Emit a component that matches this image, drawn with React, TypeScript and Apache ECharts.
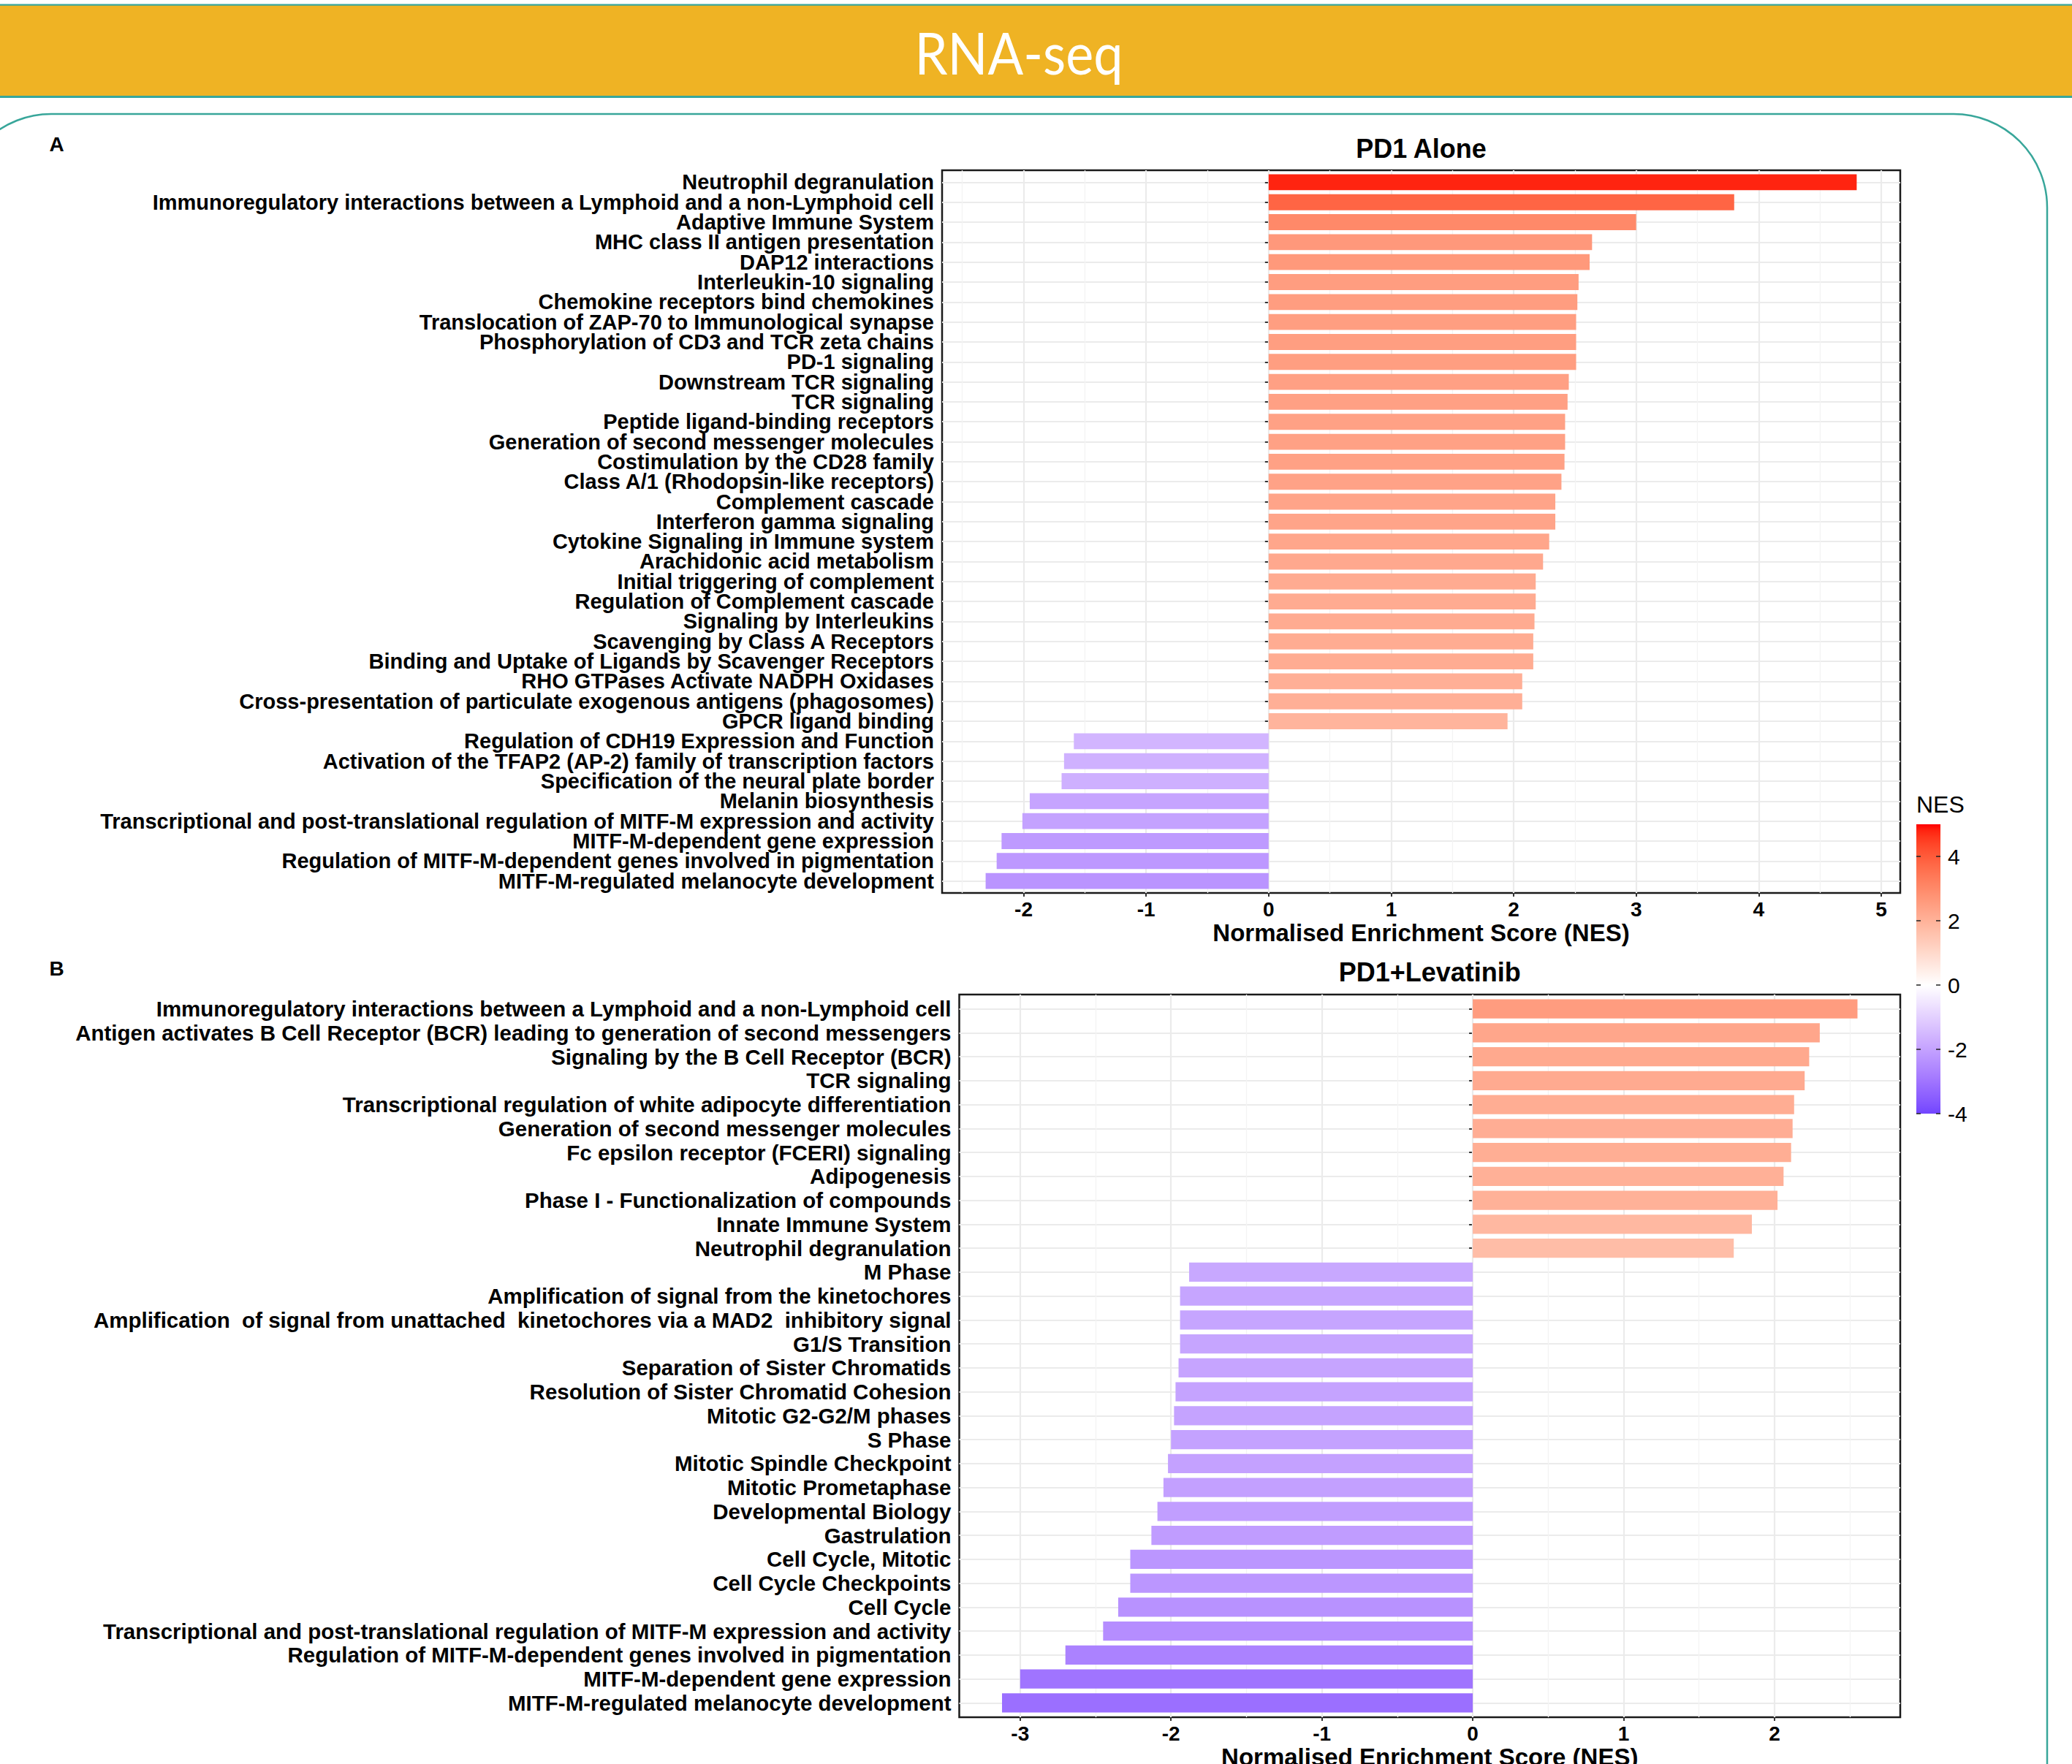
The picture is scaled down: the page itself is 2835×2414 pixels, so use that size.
import React, { useEffect, useRef } from "react";
import * as echarts from "echarts";

const W = 2835;
const H = 2414;

// ---- data -------------------------------------------------------------
const pathwaysA = [
  "Neutrophil degranulation",
  "Immunoregulatory interactions between a Lymphoid and a non-Lymphoid cell",
  "Adaptive Immune System",
  "MHC class II antigen presentation",
  "DAP12 interactions",
  "Interleukin-10 signaling",
  "Chemokine receptors bind chemokines",
  "Translocation of ZAP-70 to Immunological synapse",
  "Phosphorylation of CD3 and TCR zeta chains",
  "PD-1 signaling",
  "Downstream TCR signaling",
  "TCR signaling",
  "Peptide ligand-binding receptors",
  "Generation of second messenger molecules",
  "Costimulation by the CD28 family",
  "Class A/1 (Rhodopsin-like receptors)",
  "Complement cascade",
  "Interferon gamma signaling",
  "Cytokine Signaling in Immune system",
  "Arachidonic acid metabolism",
  "Initial triggering of complement",
  "Regulation of Complement cascade",
  "Signaling by Interleukins",
  "Scavenging by Class A Receptors",
  "Binding and Uptake of Ligands by Scavenger Receptors",
  "RHO GTPases Activate NADPH Oxidases",
  "Cross-presentation of particulate exogenous antigens (phagosomes)",
  "GPCR ligand binding",
  "Regulation of CDH19 Expression and Function",
  "Activation of the TFAP2 (AP-2) family of transcription factors",
  "Specification of the neural plate border",
  "Melanin biosynthesis",
  "Transcriptional and post-translational regulation of MITF-M expression and activity",
  "MITF-M-dependent gene expression",
  "Regulation of MITF-M-dependent genes involved in pigmentation",
  "MITF-M-regulated melanocyte development",
];

const nesA = [
  4.8, 3.8, 3.0, 2.64, 2.62, 2.53, 2.52, 2.51, 2.51, 2.51, 2.45, 2.44, 2.42,
  2.42, 2.415, 2.39, 2.34, 2.34, 2.29, 2.24, 2.18, 2.18, 2.17, 2.16, 2.16,
  2.07, 2.07, 1.95, -1.59, -1.67, -1.69, -1.95, -2.01, -2.18, -2.22, -2.31,
];

const pathwaysB = [
  "Immunoregulatory interactions between a Lymphoid and a non-Lymphoid cell",
  "Antigen activates B Cell Receptor (BCR) leading to generation of second messengers",
  "Signaling by the B Cell Receptor (BCR)",
  "TCR signaling",
  "Transcriptional regulation of white adipocyte differentiation",
  "Generation of second messenger molecules",
  "Fc epsilon receptor (FCERI) signaling",
  "Adipogenesis",
  "Phase I - Functionalization of compounds",
  "Innate Immune System",
  "Neutrophil degranulation",
  "M Phase",
  "Amplification of signal from the kinetochores",
  "Amplification  of signal from unattached  kinetochores via a MAD2  inhibitory signal",
  "G1/S Transition",
  "Separation of Sister Chromatids",
  "Resolution of Sister Chromatid Cohesion",
  "Mitotic G2-G2/M phases",
  "S Phase",
  "Mitotic Spindle Checkpoint",
  "Mitotic Prometaphase",
  "Developmental Biology",
  "Gastrulation",
  "Cell Cycle, Mitotic",
  "Cell Cycle Checkpoints",
  "Cell Cycle",
  "Transcriptional and post-translational regulation of MITF-M expression and activity",
  "Regulation of MITF-M-dependent genes involved in pigmentation",
  "MITF-M-dependent gene expression",
  "MITF-M-regulated melanocyte development",
];

const nesB = [
  2.55, 2.3, 2.23, 2.2, 2.13, 2.12, 2.11, 2.06, 2.02, 1.85, 1.73, -1.88,
  -1.94, -1.94, -1.94, -1.95, -1.97, -1.98, -2.0, -2.02, -2.05, -2.09, -2.13,
  -2.27, -2.27, -2.35, -2.45, -2.7, -3.0, -3.12,
];

const legendLimits = [-4, 5];
const legendTicks = [4, 2, 0, -2, -4];

const pageTitle = "RNA-seq";
const titleA = "PD1 Alone";
const titleB = "PD1+Levatinib";
const xTitle = "Normalised Enrichment Score (NES)";
const legendTitle = "NES";

// ---- colour scale: white -> red / white -> blue, interpolated in CIELAB ----
const toLin = (c: number) => {
  const v = c / 255;
  return v <= 0.04045 ? v / 12.92 : Math.pow((v + 0.055) / 1.055, 2.4);
};
const fromLin = (c: number) => {
  const v = c <= 0.0031308 ? 12.92 * c : 1.055 * Math.pow(c, 1 / 2.4) - 0.055;
  return Math.round(Math.max(0, Math.min(1, v)) * 255);
};
const WX = 0.95047, WY = 1.0, WZ = 1.08883;
const fLab = (t: number) => (t > 0.008856 ? Math.cbrt(t) : 7.787 * t + 16 / 116);
const fInv = (t: number) => (t * t * t > 0.008856 ? t * t * t : (t - 16 / 116) / 7.787);

function hexToLab(hex: string): number[] {
  const r = toLin(parseInt(hex.slice(1, 3), 16));
  const g = toLin(parseInt(hex.slice(3, 5), 16));
  const b = toLin(parseInt(hex.slice(5, 7), 16));
  const X = (0.4124 * r + 0.3576 * g + 0.1805 * b) / WX;
  const Y = (0.2126 * r + 0.7152 * g + 0.0722 * b) / WY;
  const Z = (0.0193 * r + 0.1192 * g + 0.9505 * b) / WZ;
  const fx = fLab(X), fy = fLab(Y), fz = fLab(Z);
  return [116 * fy - 16, 500 * (fx - fy), 200 * (fy - fz)];
}

function labToHex(L: number, a: number, b: number): string {
  const fy = (L + 16) / 116;
  const fx = fy + a / 500;
  const fz = fy - b / 200;
  const X = fInv(fx) * WX, Y = fInv(fy) * WY, Z = fInv(fz) * WZ;
  const r = 3.2406 * X - 1.5372 * Y - 0.4986 * Z;
  const g = -0.9689 * X + 1.8758 * Y + 0.0415 * Z;
  const bl = 0.0557 * X - 0.204 * Y + 1.057 * Z;
  const h = (n: number) => fromLin(n).toString(16).padStart(2, "0");
  return "#" + h(r) + h(g) + h(bl);
}

const LAB_MID = hexToLab("#FFFFFF");
const LAB_HIGH = hexToLab("#FF0000");
const LAB_LOW = hexToLab("#0000FF");
const SCALE_MAX = Math.max(Math.abs(legendLimits[0]), Math.abs(legendLimits[1]));

function nesColour(v: number): string {
  const t = Math.min(1, Math.abs(v) / SCALE_MAX);
  const end = v >= 0 ? LAB_HIGH : LAB_LOW;
  return labToHex(
    LAB_MID[0] + (end[0] - LAB_MID[0]) * t,
    LAB_MID[1] + (end[1] - LAB_MID[1]) * t,
    LAB_MID[2] + (end[2] - LAB_MID[2]) * t
  );
}

// ---- layout -------------------------------------------------------------
type Box = { l: number; r: number; t: number; b: number };
const BOX_A: Box = { l: 1289, r: 2600, t: 233, b: 1222 };
const BOX_B: Box = { l: 1312.5, r: 2600, t: 1361, b: 2350 };

const FONT = "'Liberation Sans', Arial, Helvetica, sans-serif";
const GRID_MAJOR = "#EBEBEB";
const GRID_MINOR = "#F3F3F3";
const INK = "#000000";
const TICK = "#333333";

function buildPanel(panel: number, cats: string[], vals: number[], box: Box, labelSize: number) {
  const n = cats.length;
  // discrete axis padded by 0.6 of a step on each side
  const unit = (box.b - box.t) / (n - 1 + 1.2);
  const inset = 0.1 * unit;
  const lo = Math.min(...vals);
  const hi = Math.max(...vals);
  const pad = 0.05 * (hi - lo);
  const xmin = lo - pad;
  const xmax = hi + pad;
  const majors: number[] = [];
  for (let k = Math.ceil(xmin); k <= Math.floor(xmax); k++) majors.push(k);
  const minors: number[] = [];
  for (let k = Math.ceil(xmin * 2); k <= Math.floor(xmax * 2); k++) {
    if (k % 2 !== 0) minors.push(k / 2);
  }
  const width = box.r - box.l;
  const gFrame = panel * 2;
  const gBars = panel * 2 + 1;

  const grids = [
    {
      left: box.l,
      top: box.t,
      width,
      height: box.b - box.t,
      show: true,
      borderColor: "#1a1a1a",
      borderWidth: 2.5,
      backgroundColor: "#ffffff",
      containLabel: false,
      outerBoundsMode: "none",
    },
    {
      left: box.l,
      top: box.t + inset,
      width,
      height: box.b - box.t - 2 * inset,
      show: false,
      containLabel: false,
      outerBoundsMode: "none",
    },
  ];

  const hidden = {
    axisLabel: { show: false },
    axisLine: { show: false },
  };

  const xAxes = [
    {
      type: "value",
      gridIndex: gFrame,
      min: xmin,
      max: xmax,
      ...hidden,
      axisTick: { show: false, customValues: minors },
      splitLine: { show: true, lineStyle: { color: GRID_MINOR, width: 1.3 } },
      z: 0,
    },
    {
      type: "value",
      gridIndex: gFrame,
      min: xmin,
      max: xmax,
      ...hidden,
      axisTick: { show: false, customValues: majors },
      splitLine: { show: true, lineStyle: { color: GRID_MAJOR, width: 2.2 } },
      z: 1,
    },
    {
      type: "value",
      gridIndex: gBars,
      min: xmin,
      max: xmax,
      offset: inset,
      axisLine: { show: false },
      axisTick: {
        show: true,
        customValues: majors,
        length: 5,
        lineStyle: { color: TICK, width: 2 },
      },
      axisLabel: {
        show: true,
        customValues: majors,
        margin: 8,
        fontSize: 28,
        fontWeight: "bold",
        fontFamily: FONT,
        color: INK,
      },
      splitLine: { show: false },
      name: xTitle,
      nameLocation: "middle",
      nameGap: 38,
      nameTextStyle: {
        fontSize: 33,
        fontWeight: "bold",
        fontFamily: FONT,
        color: INK,
      },
    },
  ];

  const yAxes = [
    {
      type: "value",
      gridIndex: gFrame,
      min: -0.6,
      max: n - 1 + 0.6,
      inverse: true,
      ...hidden,
      axisTick: { show: false, customValues: cats.map((_, i) => i) },
      splitLine: { show: true, lineStyle: { color: GRID_MAJOR, width: 2.2 } },
    },
    {
      type: "category",
      gridIndex: gBars,
      data: cats,
      inverse: true,
      axisLine: { show: false },
      axisTick: {
        show: true,
        alignWithLabel: true,
        length: 5,
        lineStyle: { color: TICK, width: 2 },
      },
      axisLabel: {
        show: true,
        interval: 0,
        margin: 11,
        fontSize: labelSize,
        fontWeight: "bold",
        fontFamily: FONT,
        color: INK,
      },
      splitLine: { show: false },
    },
  ];

  return { grids, xAxes, yAxes, unit };
}

function buildOption() {
  const pA = buildPanel(0, pathwaysA, nesA, BOX_A, 29);
  const pB = buildPanel(1, pathwaysB, nesB, BOX_B, 29.5);

  const barSeries = (vals: number[], xIdx: number, yIdx: number, unit: number) => ({
    type: "bar",
    xAxisIndex: xIdx,
    yAxisIndex: yIdx,
    barWidth: 0.8 * unit,
    z: 2,
    data: vals.map((v) => ({ value: v, itemStyle: { color: nesColour(v) } })),
  });

  // colour bar legend
  const leg = { x: 2622, w: 33, yTop: 1128, yBot: 1524 };
  const span = legendLimits[1] - legendLimits[0];
  const legY = (v: number) => leg.yTop + ((legendLimits[1] - v) / span) * (leg.yBot - leg.yTop);
  const stops: { offset: number; color: string }[] = [];
  const STEPS = 45;
  for (let k = 0; k <= STEPS; k++) {
    const v = legendLimits[1] - (span * k) / STEPS;
    stops.push({ offset: k / STEPS, color: nesColour(v) });
  }
  const legendEls: any[] = [
    {
      type: "rect",
      shape: { x: leg.x, y: leg.yTop, width: leg.w, height: leg.yBot - leg.yTop },
      style: {
        fill: new echarts.graphic.LinearGradient(0, 0, 0, 1, stops),
      },
      z: 10,
    },
    {
      type: "text",
      x: leg.x,
      y: 1101,
      style: {
        text: legendTitle,
        fontSize: 32,
        fontFamily: FONT,
        fill: INK,
        textAlign: "left",
        textVerticalAlign: "middle",
      },
      z: 10,
    },
  ];
  legendTicks.forEach((t) => {
    const y = legY(t);
    legendEls.push(
      {
        type: "line",
        shape: { x1: leg.x, y1: y, x2: leg.x + 6, y2: y },
        style: { stroke: "#222", lineWidth: 1.5 },
        z: 11,
      },
      {
        type: "line",
        shape: { x1: leg.x + leg.w - 6, y1: y, x2: leg.x + leg.w, y2: y },
        style: { stroke: "#222", lineWidth: 1.5 },
        z: 11,
      },
      {
        type: "text",
        x: leg.x + leg.w + 10,
        y,
        style: {
          text: String(t),
          fontSize: 30,
          fontFamily: FONT,
          fill: INK,
          textAlign: "left",
          textVerticalAlign: "middle",
        },
        z: 11,
      }
    );
  });

  const teal = "#38A69A";
  const headerEls: any[] = [
    {
      type: "rect",
      shape: { x: 0, y: 7, width: W, height: 125 },
      style: { fill: "#EFB324" },
      z: 1,
    },
    {
      type: "rect",
      shape: { x: 0, y: 5.5, width: W, height: 2.2 },
      style: { fill: teal },
      z: 2,
    },
    {
      type: "rect",
      shape: { x: 0, y: 131, width: W, height: 3 },
      style: { fill: teal },
      z: 2,
    },
    {
      type: "text",
      x: 1394,
      y: 71,
      scaleX: 0.9,
      style: {
        text: pageTitle,
        fontSize: 80,
        fontFamily: "Lato, 'Open Sans', sans-serif",
        fill: "#ffffff",
        textAlign: "center",
        textVerticalAlign: "middle",
      },
      z: 3,
    },
    {
      type: "rect",
      shape: { x: -58, y: 156, width: 2859, height: 2500, r: 128 },
      style: { fill: "none", stroke: teal, lineWidth: 2.5 },
      z: 0,
      silent: true,
    },
  ];

  const textEl = (text: string, x: number, y: number, size: number) => ({
    type: "text",
    x,
    y,
    style: {
      text,
      fontSize: size,
      fontWeight: "bold",
      fontFamily: FONT,
      fill: INK,
      textAlign: "center",
      textVerticalAlign: "middle",
    },
    z: 5,
  });

  const labelEls = [
    textEl("A", 77.5, 197, 28),
    textEl("B", 77.5, 1325, 28),
    textEl(titleA, (BOX_A.l + BOX_A.r) / 2, 203, 36),
    textEl(titleB, (BOX_B.l + BOX_B.r) / 2, 1330, 36),
  ];

  return {
    animation: false,
    backgroundColor: "#ffffff",
    textStyle: { fontFamily: FONT },
    grid: [...pA.grids, ...pB.grids],
    xAxis: [...pA.xAxes, ...pB.xAxes],
    yAxis: [...pA.yAxes, ...pB.yAxes],
    series: [barSeries(nesA, 2, 1, pA.unit), barSeries(nesB, 5, 3, pB.unit)],
    graphic: { elements: [...headerEls, ...labelEls, ...legendEls] },
  };
}

export default function App() {
  const ref = useRef<HTMLDivElement>(null);
  useEffect(() => {
    if (!ref.current) return;
    const chart = echarts.init(ref.current, undefined, { renderer: "svg", width: W, height: H });
    chart.setOption(buildOption() as any);
    return () => chart.dispose();
  }, []);
  return (
    <div
      ref={ref}
      style={{ position: "absolute", left: 0, top: 0, width: W, height: H, background: "#fff" }}
    />
  );
}
